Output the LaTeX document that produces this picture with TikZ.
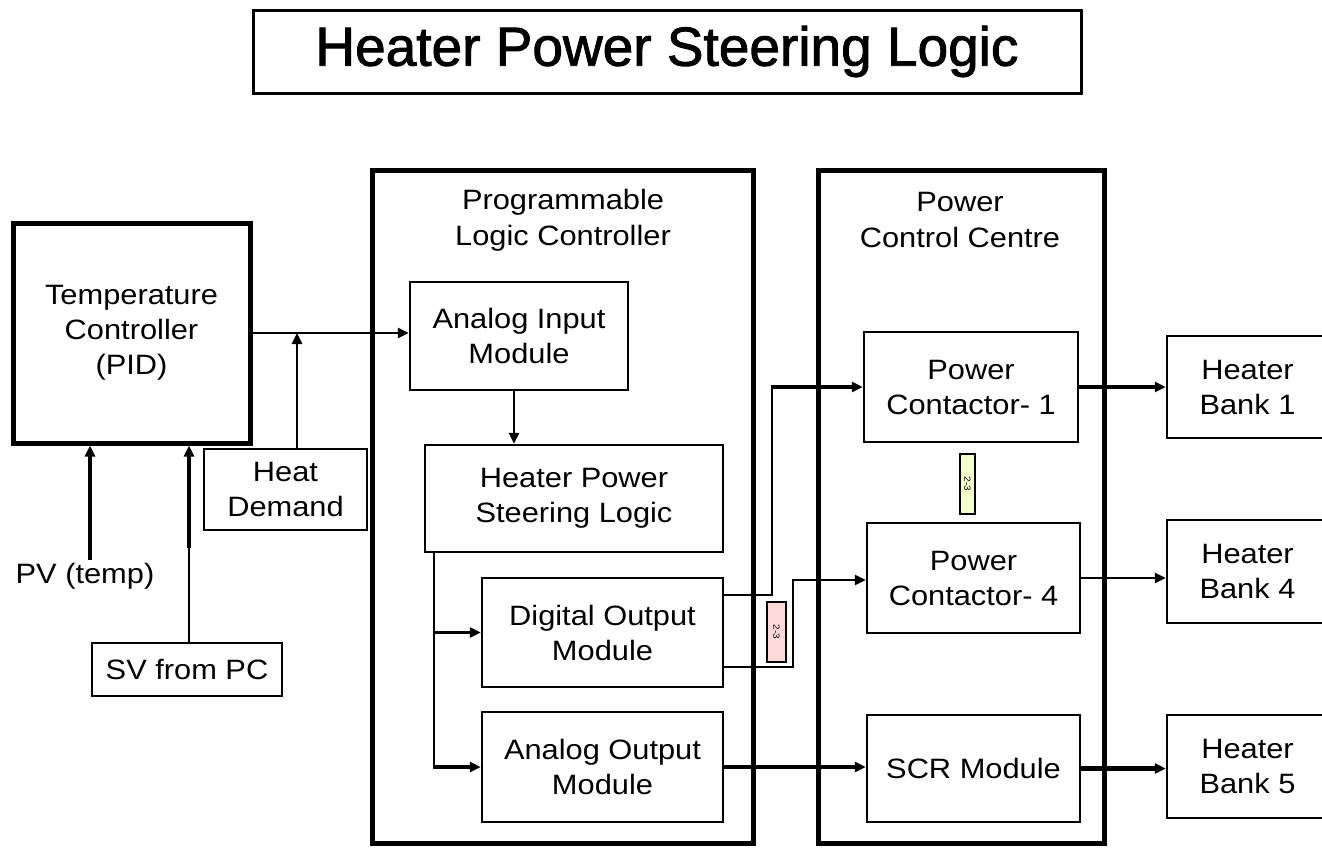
\documentclass[tikz,border=0pt]{standalone}
\usepackage{fontspec}
\setmainfont{Liberation Sans}[FakeStretch=1.1]
\newfontfamily\titlefont{Liberation Sans}[FakeBold=1.6]
\usetikzlibrary{arrows.meta}
\tikzset{
  box/.style={draw=black, line width=2.5pt, align=center, inner sep=0pt,
    font=\fontsize{28}{35}\selectfont},
  bigbox/.style={box, line width=5pt},
  lbl/.style={align=center, inner sep=0pt, font=\fontsize{28}{36}\selectfont},
  tip/.style={-{Triangle[length=11pt,width=10pt]}},
  wire/.style={line width=2.5pt},
  fatwire/.style={line width=4.5pt},
  tag/.style={draw=black, line width=2pt, inner sep=0pt, font=\fontsize{9}{9}\selectfont}
}
\begin{document}
\begin{tikzpicture}[x=1pt,y=-1pt]
\clip (0,0) rectangle (1322,847);
\fill[white] (0,0) rectangle (1322,847);

% title
\node[box, line width=3pt, minimum width=828pt, minimum height=83pt, font=\titlefont\fontsize{55}{60}\selectfont] (title) at (667,51.5) {Heater Power Steering Logic};

% left part
\node[bigbox, minimum width=237pt, minimum height=220pt] (tc) at (131.5,333) {Temperature\\Controller\\(PID)};
\node[box, minimum width=163pt, minimum height=81pt] (hd) at (285.5,489.5) {Heat\\Demand};
\node[box, minimum width=190pt, minimum height=53pt] (sv) at (187,669.5) {SV from PC};
\node[lbl] (pv) at (85,576) {PV (temp)};

% PLC
\node[bigbox, minimum width=381pt, minimum height=673pt] (plc) at (562.5,506.5) {};
\node[lbl] (plcl) at (563,220) {Programmable\\Logic Controller};
\node[box, minimum width=218pt, minimum height=108pt] (aim) at (519,336) {Analog Input\\Module};
\node[box, minimum width=298pt, minimum height=107pt] (hpsl) at (574,498.5) {Heater Power\\Steering Logic};
\node[box, minimum width=241pt, minimum height=109pt] (dom) at (602.5,632.5) {Digital Output\\Module};
\node[box, minimum width=241pt, minimum height=110pt] (aom) at (602.5,767) {Analog Output\\Module};

% PCC
\node[bigbox, minimum width=286pt, minimum height=673pt] (pcc) at (961,506.5) {};
\node[lbl] (pccl) at (960,220) {Power\\Control Centre};
\node[box, minimum width=214pt, minimum height=110pt] (pc1) at (971,387) {Power\\Contactor- 1};
\node[box, minimum width=213pt, minimum height=110pt] (pc4) at (973.5,578) {Power\\Contactor- 4};
\node[box, minimum width=213pt, minimum height=107pt] (scr) at (973.5,768.5) {SCR Module};

% heater banks
\node[box, minimum width=161pt, minimum height=102pt] (hb1) at (1247.5,387) {Heater\\Bank 1};
\node[box, minimum width=161pt, minimum height=103pt] (hb4) at (1247.5,571.5) {Heater\\Bank 4};
\node[box, minimum width=161pt, minimum height=103pt] (hb5) at (1247.5,766.5) {Heater\\Bank 5};

% small tags
\node[tag, fill=green!25!yellow!20, minimum width=15pt, minimum height=60pt] (g23) at (967.5,484) {\rotatebox{-90}{2-3}};
\node[tag, fill=red!15, minimum width=19pt, minimum height=60pt] (p23) at (776.5,632) {\rotatebox{-90}{2-3}};

% connectors
\draw[wire, tip] (tc.east) -- (tc.east -| aim.west);
\coordinate (j1) at (297,333);
\draw[wire, tip] (hd.north -| j1) -- (j1);
\coordinate (pvend) at (90,560);
\draw[fatwire, tip] (pvend) -- (pvend |- tc.south);
\coordinate (svk) at (189,548);
\draw[wire] (sv.north -| svk) -- (svk);
\draw[fatwire, tip] (svk) -- (svk |- tc.south);

\draw[wire, tip] ([xshift=-5pt]aim.south) -- ([xshift=-5pt]aim.south |- hpsl.north);
\coordinate (b0) at ([xshift=10pt]hpsl.south west);
\draw[wire] (b0) -- (b0 |- aom.west);
\draw[wire, tip] (b0 |- dom.west) -- (dom.west);
\draw[fatwire, tip] ([xshift=-1pt]b0 |- aom.west) -- (aom.west);

\coordinate (k1) at (772,595);
\coordinate (k2) at (772,387);
\draw[wire] (k1 -| dom.east) -- (k1) -- (k2);
\draw[fatwire, tip] ([xshift=-1.25pt]k2) -- (k2 -| pc1.west);
\coordinate (k3) at (793,667);
\coordinate (k4) at (793,580);
\draw[wire, tip] (k3 -| dom.east) -- (k3) -- (k4) -- (k4 -| pc4.west);

\draw[fatwire, tip] (aom.east) -- (aom.east -| scr.west);
\draw[fatwire, tip] (pc1.east) -- (pc1.east -| hb1.west);
\draw[wire, tip] (pc4.east) -- (pc4.east -| hb4.west);
\draw[fatwire, tip] (scr.east) -- (scr.east -| hb5.west);
\end{tikzpicture}
\end{document}
